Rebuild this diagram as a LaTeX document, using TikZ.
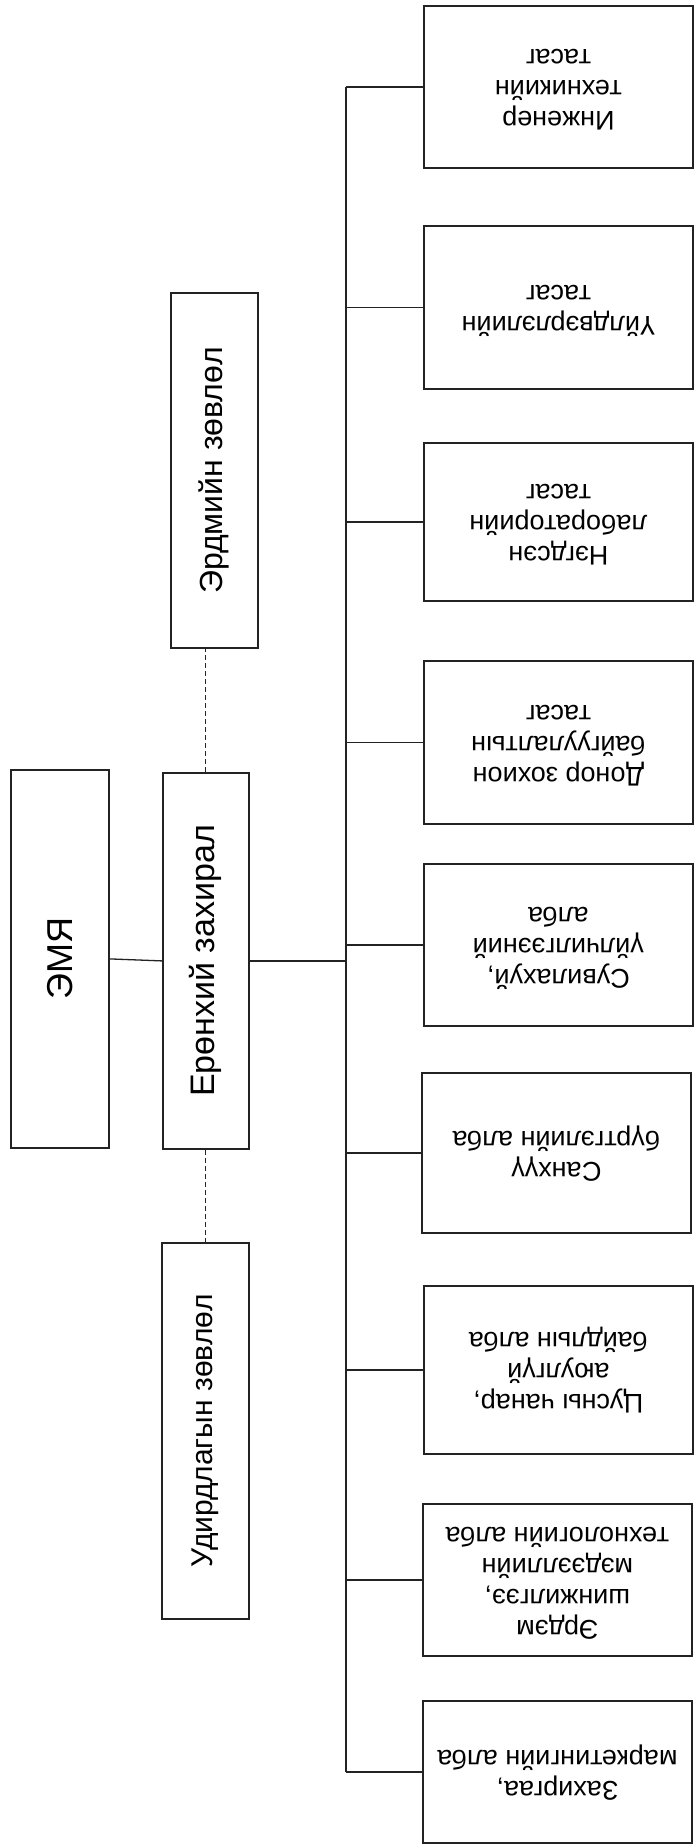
\documentclass[tikz,border=0pt]{standalone}
\usepackage{fontspec}
\setmainfont{Liberation Sans}
\usetikzlibrary{positioning}
\definecolor{orgedge}{RGB}{35,35,35}
\tikzset{
  orgbox/.style={
    draw=orgedge, line width=1.8pt, fill=white,
    inner sep=0pt, anchor=north west
  },
  headbox/.style={orgbox, font=\fontsize{34}{40}\selectfont},
  councilbox/.style={orgbox, font=\fontsize{31}{37}\selectfont},
  unitbox/.style={orgbox, minimum width=269pt, font=\fontsize{27}{31}\selectfont},
  link/.style={draw=orgedge, line width=1.3pt},
  dlink/.style={link, line width=1.1pt, dash pattern=on 5pt off 3pt}
}
\newcommand{\sidetext}[1]{\rotatebox{90}{#1}}
\newcommand{\turntext}[1]{\rotatebox{180}{\begin{tabular}{@{}c@{}}#1\end{tabular}}}

\begin{document}
\begin{tikzpicture}[x=1pt, y=-1pt]
  \useasboundingbox (0,0) rectangle (696,1847);
  % LEFT COLUMN
  \node[headbox, minimum width=98pt, minimum height=378pt, font=\fontsize{36}{42}\selectfont]
    (emya) at (10,769) {\sidetext{ЭМЯ}};
  \node[headbox, minimum width=86pt, minimum height=376pt] (gd) at (162,772)
    {\sidetext{Ерөнхий захирал}};
  \node[councilbox, minimum width=87pt, minimum height=355pt, font=\fontsize{32}{38}\selectfont]
    (sci) at (170,292) {\sidetext{Эрдмийн зөвлөл}};
  \node[councilbox, minimum width=87pt, minimum height=376pt, font=\fontsize{30}{36}\selectfont]
    (mgmt) at (161,1242) {\sidetext{Удирдлагын зөвлөл}};
  % RIGHT COLUMN
  \node[unitbox, minimum height=162pt] (u1) at (423,5)
    {\turntext{Инженер\\техникийн\\тасаг}};
  \node[unitbox, minimum height=163pt] (u2) at (423,225)
    {\turntext{Үйлдвэрлэлийн\\тасаг}};
  \node[unitbox, minimum height=158pt] (u3) at (423,442)
    {\turntext{Нэгдсэн\\лабораторийн\\тасаг}};
  \node[unitbox, minimum height=163pt] (u4) at (423,660)
    {\turntext{Донор зохион\\байгуулалтын\\тасаг}};
  \node[unitbox, minimum height=162pt] (u5) at (423,863)
    {\turntext{Сувилахуй,\\үйлчилгээний\\алба}};
  \node[unitbox, minimum height=160pt] (u6) at (421,1072)
    {\turntext{Санхүү\\бүртгэлийн алба}};
  \node[unitbox, minimum height=168pt] (u7) at (423,1285)
    {\turntext{Цусны чанар,\\аюулгүй\\байдлын алба}};
  \node[unitbox, minimum height=152pt] (u8) at (422,1503)
    {\turntext{Эрдэм\\шинжилгээ,\\мэдээллийн\\технологийн алба}};
  \node[unitbox, minimum height=142pt] (u9) at (422,1700)
    {\turntext{Захиргаа,\\маркетингийн алба}};
  % LINKS
  \coordinate (bus) at (346,953);
  \draw[link] (emya.east) -- (gd.west);
  \draw[link] (gd.east) -- (gd.east -| bus);
  \draw[link] (bus |- u1.west) -- (bus |- u9.west);
  \foreach \i in {1,...,9}
    \draw[link] (bus |- u\i.west) -- (u\i.west);
  \draw[dlink] (gd.north) -- (gd.north |- sci.south);
  \draw[dlink] (gd.south) -- (gd.south |- mgmt.north);
\end{tikzpicture}
\end{document}
